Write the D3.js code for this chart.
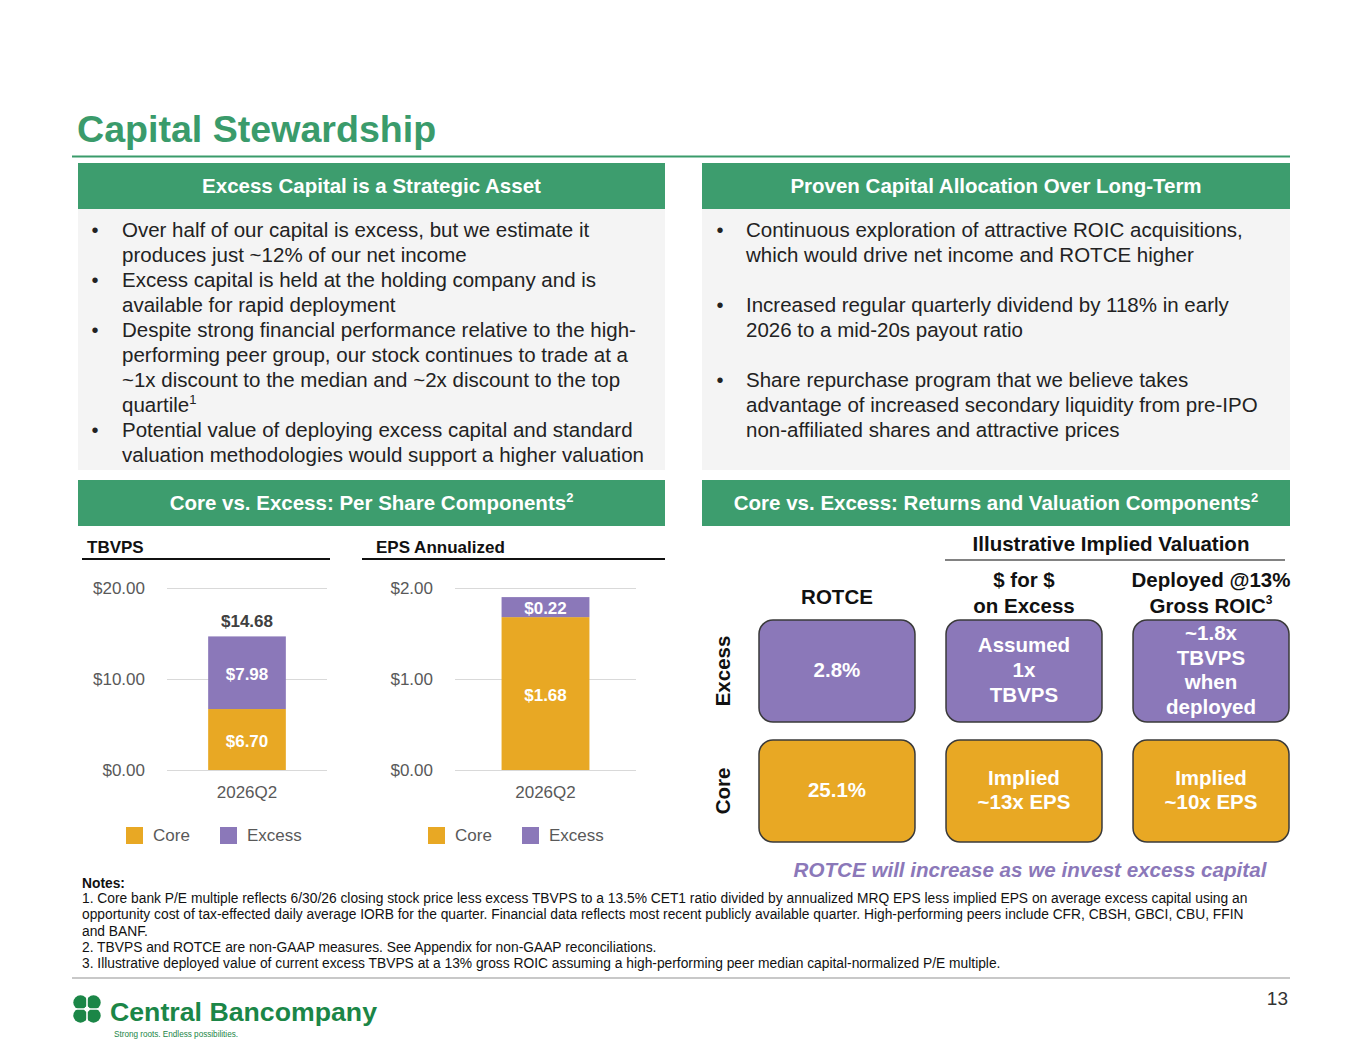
<!DOCTYPE html>
<html lang="en">
<head>
  <meta charset="UTF-8">
  <title>Capital Stewardship</title>
  <script src="https://cdn.jsdelivr.net/npm/d3@7"></script>
  <style>
    body { margin: 0; background: #fff; }
    svg { display: block; font-family: "Liberation Sans", Arial, sans-serif; }
  </style>
</head>
<body>
  <svg width="1365" height="1055"></svg>
  <script>
    // chart data
    var periods = ["2026Q2"];
    var seriesNames = ["Core", "Excess"];
    var tbvpsCore = [6.70];
    var tbvpsExcess = [7.98];
    var epsCore = [1.68];
    var epsExcess = [0.22];
    var tbvpsTicks = [0, 10, 20];
    var epsTicks = [0, 1, 2];

    // valuation matrix
    var matrixRows = ["Excess", "Core"];
    var matrixCols = ["rotce", "dollar", "deployed"];
    var excessCells = [["2.8%"], ["Assumed", "1x", "TBVPS"], ["~1.8x", "TBVPS", "when", "deployed"]];
    var coreCells = [["25.1%"], ["Implied", "~13x EPS"], ["Implied", "~10x EPS"]];

    var leftBullets = [
      ["Over half of our capital is excess, but we estimate it", "produces just ~12% of our net income"],
      ["Excess capital is held at the holding company and is", "available for rapid deployment"],
      ["Despite strong financial performance relative to the high-", "performing peer group, our stock continues to trade at a", "~1x discount to the median and ~2x discount to the top", "quartile|1"],
      ["Potential value of deploying excess capital and standard", "valuation methodologies would support a higher valuation"]
    ];
    var rightBullets = [
      ["Continuous exploration of attractive ROIC acquisitions,", "which would drive net income and ROTCE higher"],
      ["Increased regular quarterly dividend by 118% in early", "2026 to a mid-20s payout ratio"],
      ["Share repurchase program that we believe takes", "advantage of increased secondary liquidity from pre-IPO", "non-affiliated shares and attractive prices"]
    ];
    var notes = [
      "1. Core bank P/E multiple reflects 6/30/26 closing stock price less excess TBVPS to a 13.5% CET1 ratio divided by annualized MRQ EPS less implied EPS on average excess capital using an",
      "opportunity cost of tax-effected daily average IORB for the quarter. Financial data reflects most recent publicly available quarter. High-performing peers include CFR, CBSH, GBCI, CBU, FFIN",
      "and BANF.",
      "2. TBVPS and ROTCE are non-GAAP measures. See Appendix for non-GAAP reconciliations.",
      "3. Illustrative deployed value of current excess TBVPS at a 13% gross ROIC assuming a high-performing peer median capital-normalized P/E multiple."
    ];

    var green = "#3d9d6e";
    var gold = "#e8a824";
    var purple = "#8b78b9";
    var color = d3.scaleOrdinal().domain(seriesNames).range([gold, purple]);
    var money = d3.format("$.2f");

    var svg = d3.select("svg");
    svg.append("rect").attr("width", 1365).attr("height", 1055).attr("fill", "#fff");

    // title
    svg.append("text")
      .attr("x", 77).attr("y", 142)
      .attr("font-size", 37.6).attr("font-weight", "bold")
      .attr("fill", "#3a9b6b")
      .text("Capital Stewardship");
    svg.append("line")
      .attr("x1", 72).attr("x2", 1290).attr("y1", 156.5).attr("y2", 156.5)
      .attr("stroke", "#3a9b6b").attr("stroke-width", 2);

    // section headers
    function header(x0, x1, y0, y1, label, sup) {
      svg.append("rect")
        .attr("x", x0).attr("y", y0).attr("width", x1 - x0).attr("height", y1 - y0)
        .attr("fill", green);
      var t = svg.append("text")
        .attr("x", (x0 + x1) / 2).attr("y", (y0 + y1) / 2 + 7)
        .attr("text-anchor", "middle")
        .attr("font-size", 20.5).attr("font-weight", "bold").attr("fill", "#fff")
        .text(label);
      if (sup) {
        t.append("tspan").attr("font-size", 13).attr("dy", -8).text(sup);
      }
    }
    header(78, 665, 163, 209, "Excess Capital is a Strategic Asset");
    header(702, 1290, 163, 209, "Proven Capital Allocation Over Long-Term");
    header(78, 665, 480, 526, "Core vs. Excess: Per Share Components", "2");
    header(702, 1290, 480, 526, "Core vs. Excess: Returns and Valuation Components", "2");

    // bullet panels
    svg.append("rect").attr("x", 78).attr("y", 209).attr("width", 587).attr("height", 261).attr("fill", "#f4f4f4");
    svg.append("rect").attr("x", 702).attr("y", 209).attr("width", 588).attr("height", 261).attr("fill", "#f4f4f4");

    function bullets(list, xDot, xText, gapLines) {
      var line = 0;
      list.forEach(function (item) {
        svg.append("text")
          .attr("x", xDot).attr("y", 237 + line * 25)
          .attr("text-anchor", "middle")
          .attr("font-size", 20).attr("fill", "#222")
          .text("•");
        item.forEach(function (s) {
          var parts = s.split("|");
          var t = svg.append("text")
            .attr("x", xText).attr("y", 237 + line * 25)
            .attr("font-size", 20.5).attr("fill", "#222")
            .text(parts[0]);
          if (parts[1]) t.append("tspan").attr("font-size", 13).attr("dy", -8).text(parts[1]);
          line++;
        });
        line += gapLines;
      });
    }
    bullets(leftBullets, 95, 122, 0);
    bullets(rightBullets, 720, 746, 1);

    // stacked bar charts
    function stackChart(cfg) {
      var rows = periods.map(function (p, i) {
        return { period: p, Core: cfg.core[i], Excess: cfg.excess[i] };
      });
      var stacked = d3.stack().keys(seriesNames)(rows);

      var x = d3.scaleBand().domain(periods).range([cfg.x0, cfg.x1]).paddingInner(0).paddingOuter(0.53);
      var y = d3.scaleLinear().domain([0, cfg.ticks[cfg.ticks.length - 1]]).range([770, 588]);

      // chart title + underline
      svg.append("text")
        .attr("x", cfg.titleX).attr("y", 553)
        .attr("font-size", 17).attr("font-weight", "bold").attr("fill", "#111")
        .text(cfg.title);
      svg.append("line")
        .attr("x1", cfg.lineX0).attr("x2", cfg.lineX1).attr("y1", 559).attr("y2", 559)
        .attr("stroke", "#111").attr("stroke-width", 2);

      // grid
      svg.append("g")
        .attr("transform", "translate(" + cfg.x0 + ",0)")
        .call(d3.axisLeft(y).tickValues(cfg.ticks).tickSize(-(cfg.x1 - cfg.x0)).tickFormat(""))
        .call(function (g) { g.select(".domain").remove(); })
        .selectAll("line").attr("stroke", "#d9d9d9");

      // y labels
      svg.append("g")
        .attr("transform", "translate(" + cfg.x0 + ",0)")
        .call(d3.axisLeft(y).tickValues(cfg.ticks).tickSize(0).tickPadding(22).tickFormat(money))
        .call(function (g) { g.select(".domain").remove(); })
        .selectAll("text")
        .attr("font-size", 17).attr("fill", "#595959")
        .attr("font-family", "Liberation Sans, Arial, sans-serif");

      // x labels
      svg.append("g")
        .attr("transform", "translate(0,770)")
        .call(d3.axisBottom(x).tickSize(0).tickPadding(16))
        .call(function (g) { g.select(".domain").remove(); })
        .selectAll("text")
        .attr("font-size", 17).attr("fill", "#595959")
        .attr("font-family", "Liberation Sans, Arial, sans-serif");

      // bars
      var layers = svg.append("g").selectAll("g")
        .data(stacked).enter().append("g")
        .attr("fill", function (d) { return color(d.key); });
      layers.selectAll("rect")
        .data(function (d) { return d; }).enter().append("rect")
        .attr("x", function (d) { return x(d.data.period); })
        .attr("width", x.bandwidth())
        .attr("y", function (d) { return y(d[1]); })
        .attr("height", function (d) { return y(d[0]) - y(d[1]); });

      // segment labels
      stacked.forEach(function (layer) {
        layer.forEach(function (d) {
          svg.append("text")
            .attr("x", x(d.data.period) + x.bandwidth() / 2)
            .attr("y", (y(d[0]) + y(d[1])) / 2 + 7)
            .attr("text-anchor", "middle")
            .attr("font-size", 17).attr("font-weight", "bold").attr("fill", "#fff")
            .text(money(d.data[layer.key]));
        });
      });

      // total label
      if (cfg.showTotal) {
        rows.forEach(function (r) {
          var total = r.Core + r.Excess;
          svg.append("text")
            .attr("x", x(r.period) + x.bandwidth() / 2)
            .attr("y", y(total) - 9)
            .attr("text-anchor", "middle")
            .attr("font-size", 17).attr("font-weight", "bold").attr("fill", "#404040")
            .text(money(total));
        });
      }

      // legend
      seriesNames.forEach(function (name, i) {
        var lx = cfg.legendX[i];
        svg.append("rect")
          .attr("x", lx).attr("y", 827).attr("width", 17).attr("height", 17)
          .attr("fill", color(name));
        svg.append("text")
          .attr("x", lx + 27).attr("y", 841)
          .attr("font-size", 17).attr("fill", "#595959")
          .text(name);
      });
    }

    stackChart({
      title: "TBVPS", titleX: 87, lineX0: 82, lineX1: 330,
      x0: 167, x1: 327, core: tbvpsCore, excess: tbvpsExcess, ticks: tbvpsTicks,
      showTotal: true, legendX: [126, 220]
    });
    stackChart({
      title: "EPS Annualized", titleX: 376, lineX0: 362, lineX1: 665,
      x0: 455, x1: 636, core: epsCore, excess: epsExcess, ticks: epsTicks,
      showTotal: false, legendX: [428, 522]
    });

    // valuation matrix
    svg.append("text")
      .attr("x", 1111).attr("y", 551)
      .attr("text-anchor", "middle")
      .attr("font-size", 20.5).attr("font-weight", "bold").attr("fill", "#111")
      .text("Illustrative Implied Valuation");
    svg.append("line")
      .attr("x1", 945).attr("x2", 1285).attr("y1", 560).attr("y2", 560)
      .attr("stroke", "#595959").attr("stroke-width", 1.5);

    var mx = d3.scaleBand().domain(matrixCols).range([759, 1289]).paddingInner(0.166);
    var my = d3.scaleBand().domain(matrixRows).range([620, 842]).paddingInner(0.15);

    var colHeads = [["ROTCE"], ["$ for $", "on Excess"], ["Deployed @13%", "Gross ROIC|3"]];
    matrixCols.forEach(function (c, i) {
      var lines = colHeads[i];
      var cx = mx(c) + mx.bandwidth() / 2;
      lines.forEach(function (s, j) {
        var parts = s.split("|");
        var yy = lines.length === 1 ? 604 : 587 + j * 26;
        var t = svg.append("text")
          .attr("x", cx).attr("y", yy)
          .attr("text-anchor", "middle")
          .attr("font-size", 20.5).attr("font-weight", "bold").attr("fill", "#111")
          .text(parts[0]);
        if (parts[1]) t.append("tspan").attr("font-size", 12).attr("dy", -9).text(parts[1]);
      });
    });

    matrixRows.forEach(function (r, ri) {
      var cells = r === "Excess" ? excessCells : coreCells;
      var cy = my(r) + my.bandwidth() / 2;
      svg.append("text")
        .attr("transform", "translate(730," + cy + ") rotate(-90)")
        .attr("text-anchor", "middle")
        .attr("font-size", 20.5).attr("font-weight", "bold").attr("fill", "#111")
        .text(r);
      matrixCols.forEach(function (c, ci) {
        svg.append("rect")
          .attr("x", mx(c)).attr("y", my(r))
          .attr("width", mx.bandwidth()).attr("height", my.bandwidth())
          .attr("rx", 14).attr("ry", 14)
          .attr("fill", color(r))
          .attr("stroke", "#3a3a3a").attr("stroke-width", 1.5);
        var lines = cells[ci];
        var cx = mx(c) + mx.bandwidth() / 2;
        lines.forEach(function (s, j) {
          svg.append("text")
            .attr("x", cx)
            .attr("y", cy - 1 + (j - (lines.length - 1) / 2) * 24.7 + 7)
            .attr("text-anchor", "middle")
            .attr("font-size", 20.5).attr("font-weight", "bold").attr("fill", "#fff")
            .text(s);
        });
      });
    });

    svg.append("text")
      .attr("x", 1030).attr("y", 877)
      .attr("text-anchor", "middle")
      .attr("font-size", 20.6).attr("font-weight", "bold").attr("font-style", "italic")
      .attr("fill", purple)
      .text("ROTCE will increase as we invest excess capital");

    // notes
    svg.append("text")
      .attr("x", 82).attr("y", 888)
      .attr("font-size", 13.8).attr("font-weight", "bold").attr("fill", "#111")
      .text("Notes:");
    notes.forEach(function (s, i) {
      svg.append("text")
        .attr("x", 82).attr("y", 903 + i * 16.3)
        .attr("font-size", 13.8).attr("fill", "#111")
        .text(s);
    });
    svg.append("line")
      .attr("x1", 72).attr("x2", 1290).attr("y1", 978).attr("y2", 978)
      .attr("stroke", "#c8c8c8").attr("stroke-width", 2);

    svg.append("text")
      .attr("x", 1288).attr("y", 1005)
      .attr("text-anchor", "end")
      .attr("font-size", 19).attr("fill", "#333")
      .text("13");

    // logo
    var logoGreen = "#1b8647";
    var logo = svg.append("g").attr("transform", "translate(87,1009)");
    [[-6.5, -6.5], [6.5, -6.5], [-6.5, 6.5], [6.5, 6.5]].forEach(function (p) {
      logo.append("circle").attr("cx", p[0]).attr("cy", p[1]).attr("r", 7.2).attr("fill", logoGreen);
    });
    logo.append("path").attr("d", "M-14,0H14M0,-14V14").attr("stroke", "#fff").attr("stroke-width", 1.6);
    logo.append("circle").attr("r", 2.6).attr("fill", "#fff");
    svg.append("text")
      .attr("x", 110).attr("y", 1021)
      .attr("font-size", 26).attr("font-weight", "bold").attr("fill", logoGreen)
      .attr("textLength", 267).attr("lengthAdjust", "spacingAndGlyphs")
      .text("Central Bancompany");
    svg.append("text")
      .attr("x", 114).attr("y", 1037)
      .attr("font-size", 9.5).attr("fill", logoGreen)
      .attr("textLength", 124).attr("lengthAdjust", "spacingAndGlyphs")
      .text("Strong roots. Endless possibilities.");
  </script>
</body>
</html>
